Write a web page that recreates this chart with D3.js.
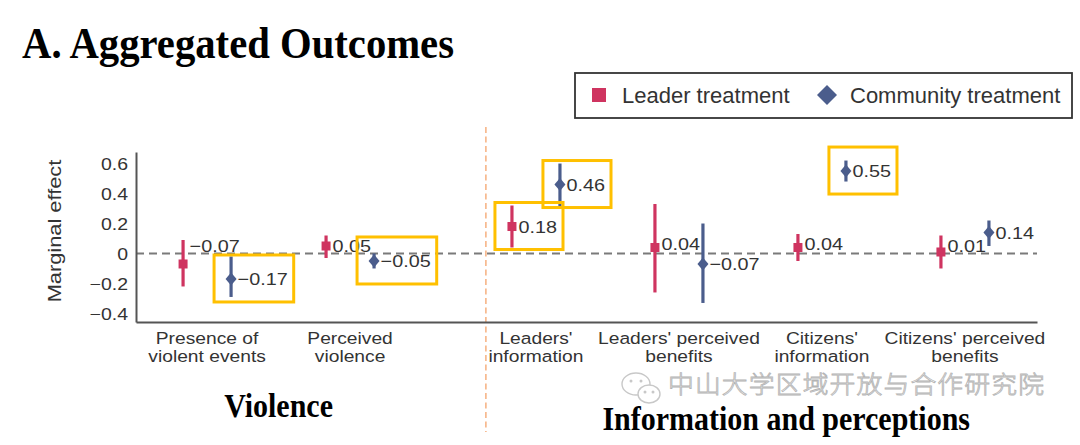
<!DOCTYPE html>
<html><head><meta charset="utf-8">
<script src="https://cdn.jsdelivr.net/npm/d3@7"></script>
<style>body{margin:0;background:#fff;overflow:hidden}</style>
</head><body><svg id="c" width="1080" height="445"></svg>
<script>
// ---------------- data ----------------
const categories = [["Presence of","violent events"],["Perceived","violence"],["Leaders'","information"],["Leaders' perceived","benefits"],["Citizens'","information"],["Citizens' perceived","benefits"]];
const categoryGroup = [0,0,1,1,1,1];
const groups = ["Violence","Information and perceptions"];
const seriesNames = ["Leader treatment","Community treatment"];
const leaderEst = [-0.07, 0.05, 0.18, 0.04, 0.04, 0.01];
const leaderLo  = [-0.22,-0.03, 0.04,-0.26,-0.05,-0.10];
const leaderHi  = [ 0.09, 0.12, 0.32, 0.33, 0.13, 0.12];
const communityEst = [-0.17,-0.05, 0.46,-0.07, 0.55, 0.14];
const communityLo  = [-0.29,-0.10, 0.31,-0.33, 0.48, 0.05];
const communityHi  = [-0.02, 0.00, 0.60, 0.20, 0.62, 0.22];
const yTicks = [-0.4,-0.2,0,0.2,0.4,0.6];
const highlighted = [[1,0],[1,1],[0,2],[1,2],[1,4]]; // [series, category]
const title = "A. Aggregated Outcomes";
const yTitle = "Marginal effect";
const watermark = "中山大学区域开放与合作研究院";

// ---------------- layout ----------------
const colors = ["#CF3460", "#4B5D8C"];
const SX = 1.18; // chart font is wide
const svg = d3.select("#c");
const x = d3.scaleLinear().domain([-0.497, 5.804]).range([136, 1037]);
const y = d3.scaleLinear().domain([-0.457, 0.677]).range([322, 152]);
const pos = i => i + categoryGroup[i] * 0.3;
const off = [-24, 24];
const fmt = d3.format(".2f");

function wideText(g, px, py, str, size, anchor, color, rot) {
  return g.append("text")
    .attr("transform", `translate(${px},${py})${rot ? ` rotate(${rot})` : ""} scale(${SX},1)`)
    .attr("text-anchor", anchor || "start")
    .attr("font-family", "'Liberation Sans', Arial, sans-serif")
    .attr("font-size", size)
    .attr("fill", color || "#333")
    .text(str);
}

// watermark (behind)
const wm = svg.append("g");
wm.append("ellipse").attr("cx", 636).attr("cy", 384).attr("rx", 14).attr("ry", 11).attr("fill", "#fff").attr("stroke", "#c8c8c8").attr("stroke-width", 1.4);
wm.append("ellipse").attr("cx", 649).attr("cy", 394).attr("rx", 11).attr("ry", 9).attr("fill", "#fff").attr("stroke", "#c8c8c8").attr("stroke-width", 1.4);
[[631,381],[641,381],[645,392],[653,392]].forEach(p => wm.append("circle").attr("cx", p[0]).attr("cy", p[1]).attr("r", 1.5).attr("fill", "#c8c8c8"));
wm.append("text").attr("transform", "translate(668,393) scale(1.1,1)")
  .attr("font-family", "'Noto Sans CJK SC', sans-serif").attr("font-size", 23.5)
  .attr("font-weight", 300).attr("letter-spacing", 1)
  .attr("fill", "#fff").attr("stroke", "#b4b4b4").attr("stroke-width", 0.8)
  .text(watermark);

// title
svg.append("text").attr("transform", "translate(22,58) scale(1,1.1)")
  .attr("font-family", "'Liberation Serif', 'Times New Roman', serif")
  .attr("font-weight", "bold").attr("font-size", 40.7).attr("fill", "#000").text(title);

// orange divider
svg.append("line").attr("x1", x(1.95)).attr("x2", x(1.95)).attr("y1", 127).attr("y2", 432)
  .attr("stroke", "#F4A36B").attr("stroke-width", 1.3).attr("stroke-dasharray", "6,3.5");

// zero line
svg.append("line").attr("x1", x.range()[0]).attr("x2", x.range()[1]).attr("y1", y(0)).attr("y2", y(0))
  .attr("stroke", "#7a7a7a").attr("stroke-width", 2).attr("stroke-dasharray", "8,5");

// y axis
const yAxis = svg.append("g").attr("transform", `translate(${x.range()[0]},0)`)
  .call(d3.axisLeft(y).tickValues(yTicks).tickSize(0).tickPadding(8)
    .tickFormat(d => d === 0 ? "0" : d3.format(".1f")(d)));
yAxis.select(".domain").attr("stroke", "#555").attr("stroke-width", 2);
yAxis.selectAll(".tick text").each(function(d) {
  const t = d3.select(this);
  t.attr("x", null).attr("dy", "0.36em")
   .attr("transform", `translate(-8,0) scale(${SX},1)`)
   .attr("font-family", "'Liberation Sans', Arial, sans-serif")
   .attr("font-size", 16.5).attr("fill", "#333");
});
// x axis
const xAxis = svg.append("g").attr("transform", `translate(0,${y.range()[0]})`)
  .call(d3.axisBottom(x).tickValues([]).tickSizeOuter(0));
xAxis.select(".domain").attr("stroke", "#555").attr("stroke-width", 2);

// y title
wideText(svg, 61, y(0.15), yTitle, 18.5, "middle", "#333", -90);

// category labels
categories.forEach((c, i) => {
  c.forEach((line, j) => wideText(svg, x(pos(i)), 344 + j * 18, line, 16.3, "middle", "#333"));
});

// group labels
[[0.5, 417], [4.05, 430]].forEach((p, gi) => {
  svg.append("text").attr("transform", `translate(${x(p[0])},${p[1]}) scale(1,1.1)`)
    .attr("text-anchor", "middle")
    .attr("font-family", "'Liberation Serif', 'Times New Roman', serif")
    .attr("font-weight", "bold").attr("font-size", 30).attr("fill", "#000").text(groups[gi]);
});

// series
const series = [
  {est: leaderEst, lo: leaderLo, hi: leaderHi},
  {est: communityEst, lo: communityLo, hi: communityHi}
];
const labelNudge = {"0-0": -18, "0-3": -4, "0-4": -4, "0-5": -6};
const labelInfo = {};
const marks = svg.append("g");
series.forEach((s, si) => {
  s.est.forEach((v, i) => {
    const px = x(pos(i)) + off[si];
    marks.append("line").attr("x1", px).attr("x2", px).attr("y1", y(s.lo[i])).attr("y2", y(s.hi[i]))
      .attr("stroke", colors[si]).attr("stroke-width", 3.2);
    if (si === 0) {
      marks.append("rect").attr("x", px - 4.5).attr("y", y(v) - 4.5).attr("width", 9).attr("height", 9).attr("fill", colors[si]);
    } else {
      marks.append("path").attr("d", `M${px},${y(v)-6.5}L${px+5.5},${y(v)}L${px},${y(v)+6.5}L${px-5.5},${y(v)}Z`).attr("fill", colors[si]);
    }
    const ly = y(v) + (labelNudge[`${si}-${i}`] || 0);
    const t = wideText(marks, px + 6.5, ly, fmt(v), 16.8, "start", "#333").attr("dy", "0.36em");
    labelInfo[`${si}-${i}`] = {px, py: y(v), end: px + 6.5 + t.node().getComputedTextLength() * SX};
  });
});

// highlight boxes
highlighted.forEach(([si, i]) => {
  const L = labelInfo[`${si}-${i}`];
  svg.append("rect").attr("x", L.px - 17).attr("y", L.py - 24)
    .attr("width", L.end + 6 - (L.px - 17)).attr("height", 47)
    .attr("fill", "none").attr("stroke", "#FFC000").attr("stroke-width", 3);
});

// legend
const lg = svg.append("g");
lg.append("rect").attr("x", 575).attr("y", 73).attr("width", 497).attr("height", 45)
  .attr("fill", "#fff").attr("stroke", "#333").attr("stroke-width", 1.8);
lg.append("rect").attr("x", 592).attr("y", 88).attr("width", 14).attr("height", 14).attr("fill", colors[0]);
lg.append("path").attr("d", "M827,85L837,95L827,105L817,95Z").attr("fill", colors[1]);
[[622, seriesNames[0]], [850, seriesNames[1]]].forEach(p => {
  lg.append("text").attr("x", p[0]).attr("y", 103)
    .attr("font-family", "'Liberation Sans', Arial, sans-serif").attr("font-size", 22)
    .attr("fill", "#333").text(p[1]);
});
</script></body></html>
